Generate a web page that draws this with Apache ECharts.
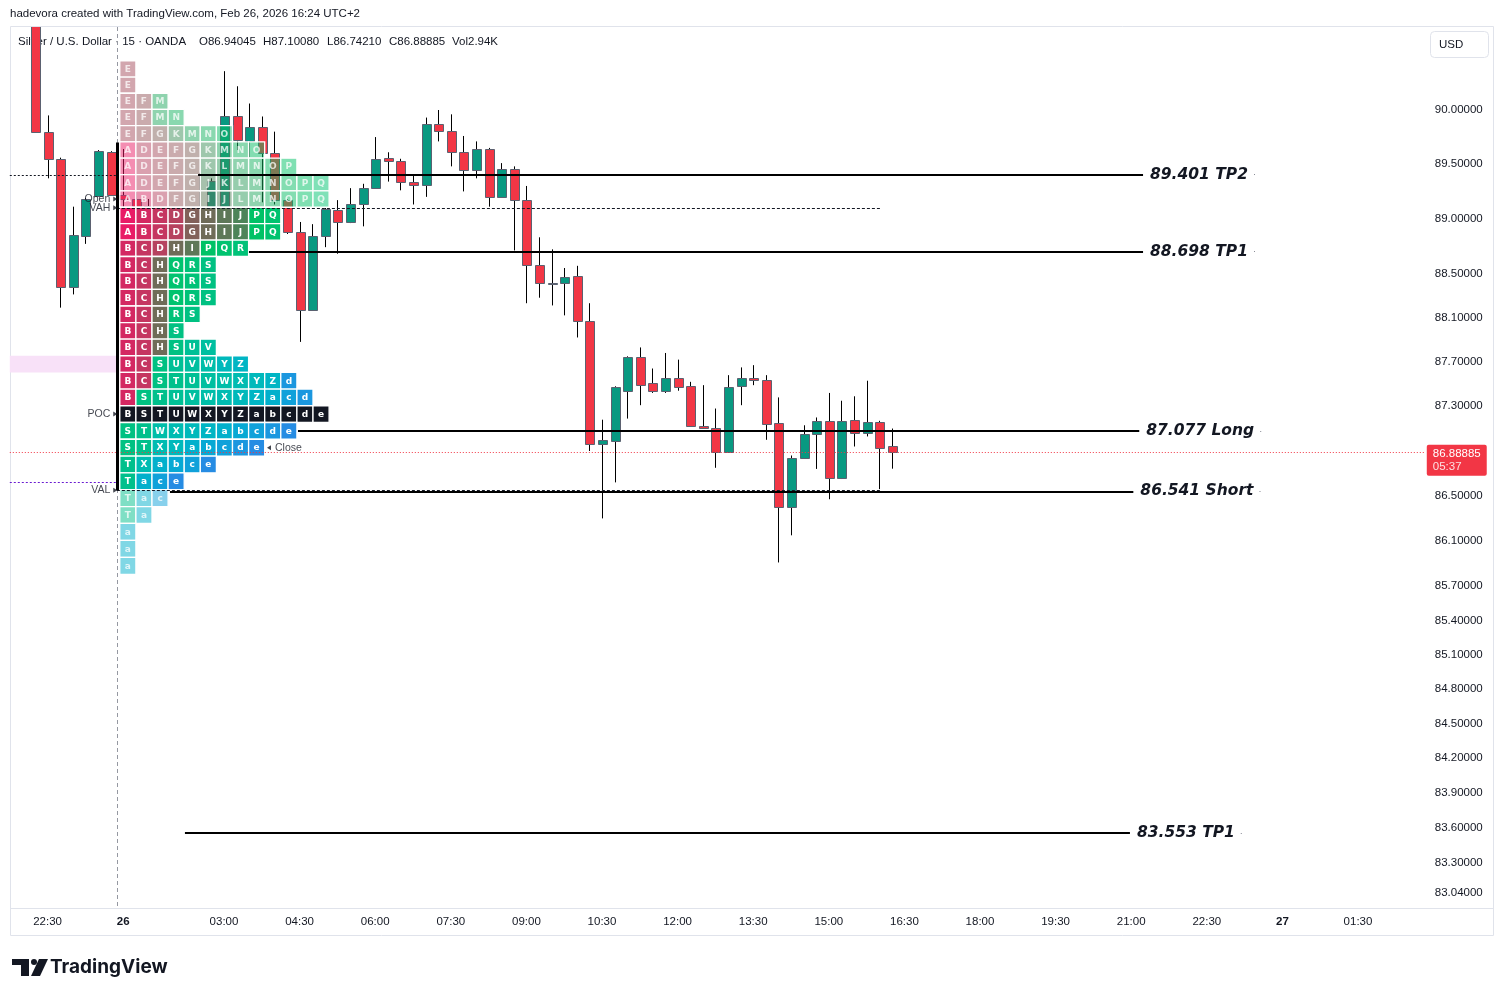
<!DOCTYPE html>
<html><head><meta charset="utf-8">
<script src="https://cdn.jsdelivr.net/npm/echarts@6/dist/echarts.min.js"></script>
<style>html,body{margin:0;padding:0;background:#fff;}#c{width:1504px;height:996px;}</style>
</head><body><div id="c"></div><script>
// ---------------- DATA ----------------
const candleTimes = [
 '25 22:15','25 22:30','25 22:45','25 23:00','25 23:15','25 23:30','25 23:45',
 '26 01:00','26 01:15','26 01:30','26 01:45','26 02:00','26 02:15','26 02:30','26 02:45',
 '26 03:00','26 03:15','26 03:30','26 03:45','26 04:00','26 04:15','26 04:30','26 04:45',
 '26 05:00','26 05:15','26 05:30','26 05:45','26 06:00','26 06:15','26 06:30','26 06:45',
 '26 07:00','26 07:15','26 07:30','26 07:45','26 08:00','26 08:15','26 08:30','26 08:45',
 '26 09:00','26 09:15','26 09:30','26 09:45','26 10:00','26 10:15','26 10:30','26 10:45',
 '26 11:00','26 11:15','26 11:30','26 11:45','26 12:00','26 12:15','26 12:30','26 12:45',
 '26 13:00','26 13:15','26 13:30','26 13:45','26 14:00','26 14:15','26 14:30','26 14:45',
 '26 15:00','26 15:15','26 15:30','26 15:45','26 16:00','26 16:15'];
const candleOpen = [91.20,89.80,89.55,88.38,88.84,89.21,89.61,
 89.22,89.18,89.12,87.95,87.55,88.35,88.95,88.85,
 89.11,89.94,89.71,89.84,89.60,89.17,88.88,88.17,
 88.84,89.08,88.97,89.13,89.28,89.56,89.53,89.34,
 89.31,89.87,89.81,89.61,89.45,89.64,89.20,89.46,
 89.17,88.58,88.41,88.41,88.48,88.07,86.96,86.99,
 87.44,87.74,87.51,87.44,87.55,87.48,87.12,87.11,
 86.89,87.48,87.55,87.54,87.15,86.40,86.84,87.05,
 87.17,86.66,87.18,87.06,87.16,86.94045];
const candleHigh = [91.40,89.95,89.56,89.11,89.19,89.63,89.62,
 89.64,89.25,89.18,88.30,88.45,89.03,89.42,89.37,
 90.36,90.22,90.06,89.94,89.80,89.18,88.97,88.95,
 89.10,89.17,89.28,89.32,89.75,89.61,89.55,89.40,
 89.93,90.00,89.96,89.76,89.71,89.65,89.51,89.48,
 89.30,88.83,88.72,88.55,88.57,88.23,87.18,87.48,
 87.75,87.83,87.64,87.78,87.72,87.52,87.49,87.28,
 87.58,87.65,87.67,87.58,87.38,86.86,87.13,87.20,
 87.42,87.35,87.39,87.53,87.17,87.10080];
const candleLow = [89.80,89.37,88.19,88.31,88.77,89.20,89.21,
 89.05,88.88,87.85,87.23,87.38,88.25,88.73,88.80,
 89.11,89.63,89.56,89.15,89.13,88.86,87.88,88.16,
 88.74,88.68,88.96,88.93,89.28,89.34,89.26,89.13,
 89.20,89.71,89.48,89.25,89.37,89.11,89.20,88.71,
 88.23,88.28,88.21,88.12,87.92,86.90,86.30,86.62,
 87.19,87.31,87.42,87.42,87.44,87.12,87.11,86.75,
 86.89,87.31,87.49,87.00,85.91,86.15,86.84,86.74,
 86.47,86.65,86.94,87.03,86.56,86.74210];
const candleClose = [89.80,89.55,88.38,88.85,89.18,89.62,89.22,
 89.18,89.12,87.95,87.55,88.35,88.95,88.85,89.35,
 89.94,89.72,89.84,89.60,89.17,88.88,88.17,88.84,
 89.09,88.97,89.13,89.28,89.55,89.53,89.34,89.31,
 89.87,89.81,89.61,89.45,89.64,89.20,89.46,89.17,
 88.58,88.41,88.41,88.47,88.07,86.96,87.00,87.47,
 87.74,87.49,87.44,87.55,87.47,87.12,87.11,86.89,
 87.47,87.55,87.54,87.14,86.40,86.84,87.05,87.17,
 86.66,87.17,87.06,87.16,86.93,86.88885];
const lastVolume = '2.94K';
const countdown = '05:37';

const yTicks = [90.00,89.50,89.00,88.50,88.10,87.70,87.30,86.50,86.10,85.70,85.40,85.10,84.80,84.50,84.20,83.90,83.60,83.30,83.04];
const xTickKeys = ['25 22:30','26 01:00','26 03:00','26 04:30','26 06:00','26 07:30','26 09:00','26 10:30','26 12:00','26 13:30','26 15:00','26 16:30','26 18:00','26 19:30','26 21:00','26 22:30','27 00:00','27 01:30'];
const xTickLabels = ['22:30','26','03:00','04:30','06:00','07:30','09:00','10:30','12:00','13:30','15:00','16:30','18:00','19:30','21:00','22:30','27','01:30'];

// TPO market profile (session 26)
const tpoPrices = [90.38,90.23,90.08,89.93,89.78,89.63,89.48,89.33,89.18,89.03,88.88,88.73,88.58,88.43,88.28,88.13,87.98,87.83,87.68,87.53,87.38,87.23,87.08,86.93,86.78,86.63,86.48,86.33,86.18,86.03,85.88];
const tpoLetters = ['E','E','EFM','EFMN','EFGKMNO','ADEFGKMNO','ADEFGKLMNOP','ADEFGJKLMNOPQ','ABDFGIJLMNOPQ',
 'ABCDGHIJPQ','ABCDGHIJPQ','BCDHIPQR','BCHQRS','BCHQRS','BCHQRS','BCHRS','BCHS','BCHSUV','BCSUVWYZ',
 'BCSTUVWXYZd','BSTUVWXYZacd','BSTUWXYZabcde','STWXYZabcde','STXYabcde','TXabce','Tace',
 'Tac','Ta','a','a','a'];
const tpoPeriods = 'ABCDEFGHIJKLMNOPQRSTUVWXYZabcde';
const tpoValueAreaHigh = 89.10, tpoValueAreaLow = 86.55, tpoPoc = 87.23, tpoOpen = 89.18, tpoClose = 86.93;
const tpoRangeBar = [89.70, 86.55];
const highlightBand = [87.605, 87.755];
const prevSessionLevels = [89.40, 86.62];

const levelPrices = [89.401, 88.698, 87.077, 86.541, 83.553];
const levelNames = ['TP2', 'TP1', 'Long', 'Short', 'TP1'];

// ---------------- STYLE / LAYOUT ----------------
const FONT = "'Liberation Sans', Arial, sans-serif";
const TXT = '#131722';
const UP = '#089981', DOWN = '#f23645';
const tpoColors = ['#e91b66','#d42862','#c53661','#b6425f','#a64d5d','#95575b','#82615a','#6f6c58','#5e7858','#4d8459',
 '#3d905a','#2e9c5c','#20a85e','#13b260','#08bb63','#00c266','#00c36f','#00c278','#00c182','#00c08c','#00c096',
 '#00bfa0','#00bea9','#00bcb2','#00b9bb','#00b5c4','#02b0cc','#07a9d4','#10a1da','#1b97df','#268ce3'];
const BAR_PX = 12.6, X_MAX = 112.3, GRID_LEFT = 9.8;
const PROFILE_X = 8.73, CELL_PITCH = 16.1, SESSION_X = 8.5, MARK_X = 8.37, CLOSE_X = 20.57, PROFILE_END = 69.2;
const levelSpan = [[14.94, 89.94], [18.98, 89.94], [22.87, 89.64], [12.71, 89.17], [13.9, 88.9]];
const Y_MIN = 82.912, Y_MAX = 90.7712;

// timeline of 15-minute bars (session gap 00:00-01:00 on the 26th)
const timeline = [];
(function () {
  let d = 25, h = 21, m = 45;
  const p = v => String(v).padStart(2, '0');
  for (let i = 0; i < 120; i++) {
    timeline.push(d + ' ' + p(h) + ':' + p(m));
    m += 15; if (m === 60) { m = 0; h++; }
    if (h === 24) { h = 0; d++; }
    if (d === 26 && h === 0) h = 1;
  }
})();
const xIdx = k => timeline.indexOf(k);

function rgba(hex, a) {
  const n = parseInt(hex.slice(1), 16);
  return 'rgba(' + (n >> 16 & 255) + ',' + (n >> 8 & 255) + ',' + (n & 255) + ',' + a + ')';
}

const candleData = candleTimes.map((t, i) => [xIdx(t), candleOpen[i], candleHigh[i], candleLow[i], candleClose[i]]);
const tpoData = [];
tpoLetters.forEach((row, r) => { row.split('').forEach((ch, c) => tpoData.push([PROFILE_X, tpoPrices[r], c, tpoPeriods.indexOf(ch)])); });
const tpoStep = tpoPrices[0] - tpoPrices[1];
const last = candleData.length - 1;
const lastClose = candleClose[last];

const chart = echarts.init(document.getElementById('c'), null, {renderer: 'canvas', width: 1504, height: 996});

const dotted = (y, x1, x2, color, dash) => [{coord: [x1, y], lineStyle: {color: color, width: 1, type: dash}, label: {show: false}}, {coord: [x2, y]}];

const levelLines = levelPrices.map((p, i) => [
  {coord: [levelSpan[i][0], p], lineStyle: {color: '#000', width: 2, type: 'solid'},
   label: {show: true, position: 'end', distance: 7,
     formatter: '{t|' + p.toFixed(3) + ' ' + levelNames[i] + '}{d|·}',
     rich: {t: {fontFamily: "'DejaVu Sans'", fontWeight: 'bold', fontStyle: 'italic', fontSize: 15.5, color: TXT},
            d: {fontSize: 9, color: '#787b86', padding: [0, 0, 0, 5]}}}},
  {coord: [levelSpan[i][1], p]}
]);

const option = {
  animation: false,
  textStyle: {fontFamily: FONT},
  grid: {left: GRID_LEFT, top: 27, bottom: 88, right: 1504 - GRID_LEFT - X_MAX * BAR_PX},
  xAxis: {
    type: 'value', min: 0, max: X_MAX,
    axisLine: {show: false}, axisTick: {show: false}, splitLine: {show: false},
    axisLabel: {
      customValues: xTickKeys.map(xIdx), margin: 8, color: TXT, fontSize: 11.5, fontFamily: FONT,
      formatter: v => { const i = xTickKeys.findIndex(k => xIdx(k) === Math.round(v)); const t = xTickLabels[i] || ''; return /^\d+$/.test(t) ? '{b|' + t + '}' : t; },
      rich: {b: {fontWeight: 'bold', fontSize: 11.5, fontFamily: FONT, color: TXT}}
    }
  },
  yAxis: {
    type: 'log', logBase: 10, min: Y_MIN, max: Y_MAX, position: 'right',
    axisLine: {show: false}, axisTick: {show: false}, splitLine: {show: false},
    axisLabel: {customValues: yTicks, formatter: v => Number(v).toFixed(5), color: TXT, fontSize: 11.5, fontFamily: FONT, margin: 10}
  },
  graphic: {elements: [
    {type: 'rect', z: -10, silent: true, shape: {x: 10.5, y: 26.5, width: 1483, height: 909}, style: {fill: 'none', stroke: '#e0e3eb', lineWidth: 1}},
    {type: 'line', z: -10, silent: true, shape: {x1: 10, y1: 908.5, x2: 1494, y2: 908.5}, style: {stroke: '#e0e3eb', lineWidth: 1}},
    {type: 'text', z: -5, x: 10, y: 14, style: {text: 'hadevora created with TradingView.com, Feb 26, 2026 16:24 UTC+2', font: '11.5px ' + FONT, fill: TXT, verticalAlign: 'middle'}},
    {type: 'text', z: -5, x: 18, y: 42, style: {text: 'Silver / U.S. Dollar · 15 · OANDA', font: '11.5px ' + FONT, fill: TXT, verticalAlign: 'middle'}},
    {type: 'text', z: -5, x: 199, y: 42, style: {text: 'O' + candleOpen[last].toFixed(5), font: '11.5px ' + FONT, fill: TXT, verticalAlign: 'middle'}},
    {type: 'text', z: -5, x: 263, y: 42, style: {text: 'H' + candleHigh[last].toFixed(5), font: '11.5px ' + FONT, fill: TXT, verticalAlign: 'middle'}},
    {type: 'text', z: -5, x: 327, y: 42, style: {text: 'L' + candleLow[last].toFixed(5), font: '11.5px ' + FONT, fill: TXT, verticalAlign: 'middle'}},
    {type: 'text', z: -5, x: 389, y: 42, style: {text: 'C' + candleClose[last].toFixed(5), font: '11.5px ' + FONT, fill: TXT, verticalAlign: 'middle'}},
    {type: 'text', z: -5, x: 452, y: 42, style: {text: 'Vol' + lastVolume, font: '11.5px ' + FONT, fill: TXT, verticalAlign: 'middle'}},
    {type: 'rect', shape: {x: 1430.5, y: 31.5, width: 58, height: 26, r: 4}, style: {fill: '#fff', stroke: '#e0e3eb', lineWidth: 1}},
    {type: 'text', x: 1439, y: 44.5, style: {text: 'USD', font: '11.5px ' + FONT, fill: TXT, verticalAlign: 'middle'}},
    {type: 'rect', shape: {x: 12, y: 959, width: 17, height: 6}, style: {fill: TXT}},
    {type: 'rect', shape: {x: 21, y: 959, width: 8, height: 17}, style: {fill: TXT}},
    {type: 'circle', shape: {cx: 34, cy: 962, r: 3}, style: {fill: TXT}},
    {type: 'polygon', shape: {points: [[39, 959], [48, 959], [40, 976], [31, 976]]}, style: {fill: TXT}},
    {type: 'text', x: 50, y: 967, style: {text: 'TradingView', font: 'bold 19px Inter', fill: TXT, verticalAlign: 'middle'}}
  ]},
  series: [
    { // levels (under candles)
      type: 'line', z: 1, clip: false, silent: true, symbol: 'none', data: [[0, lastClose]], lineStyle: {opacity: 0},
      markArea: {silent: true, itemStyle: {color: '#f8e1f8'}, label: {show: false},
        data: [[{coord: [0, highlightBand[1]]}, {coord: [SESSION_X, highlightBand[0]]}]]},
      markLine: {silent: true, symbol: ['none', 'none'], label: {show: false}, data: [
        [{coord: [SESSION_X, Y_MAX], lineStyle: {color: '#9598a1', width: 1, type: [4, 3]}, label: {show: false}}, {coord: [SESSION_X, Y_MIN]}],
        dotted(prevSessionLevels[0], 0, SESSION_X, '#131722', [2, 2]),
        dotted(prevSessionLevels[1], 0, SESSION_X, '#6a1bd1', [2, 2]),
        [{coord: [0, lastClose], lineStyle: {color: DOWN, width: 1, type: [1, 2]},
          label: {show: true, position: 'end', distance: 2, offset: [0, 8], backgroundColor: DOWN, padding: [3, 6, 2, 6], borderRadius: 2,
            formatter: '{a|' + lastClose.toFixed(5) + '}\n{b|' + countdown + '}',
            rich: {a: {color: '#fff', fontSize: 11.5, lineHeight: 13, fontFamily: FONT}, b: {color: 'rgba(255,255,255,0.85)', fontSize: 11.5, lineHeight: 13, fontFamily: FONT}}}},
         {coord: [X_MAX, lastClose]}]
      ].concat(levelLines)}
    },
    { // candles
      type: 'custom', z: 2, clip: true, silent: true, data: candleData,
      encode: {x: 0, y: [1, 2, 3, 4]},
      renderItem: function (params, api) {
        const x = api.value(0), o = api.value(1), h = api.value(2), l = api.value(3), c = api.value(4);
        const pO = api.coord([x, o]), pC = api.coord([x, c]), pH = api.coord([x, h]), pL = api.coord([x, l]);
        const cx = Math.round(pO[0]);
        const top = Math.round(Math.min(pO[1], pC[1])), bot = Math.round(Math.max(pO[1], pC[1]));
        return {type: 'group', children: [
          {type: 'line', shape: {x1: cx + 0.5, y1: pH[1], x2: cx + 0.5, y2: pL[1]}, style: {stroke: '#000', lineWidth: 1}},
          {type: 'rect', shape: {x: cx - 4 + 0.5, y: top + 0.5, width: 9, height: Math.max(1, bot - top)},
           style: {fill: c >= o ? UP : DOWN, stroke: '#5b6170', lineWidth: 1}}
        ]};
      }
    },
    { // TPO cells
      type: 'custom', z: 3, silent: true, data: tpoData,
      encode: {x: 0, y: 1},
      renderItem: function (params, api) {
        const price = api.value(1), col = api.value(2), li = api.value(3);
        const yTop = api.coord([PROFILE_X, price + tpoStep / 2])[1];
        const yBot = api.coord([PROFILE_X, price - tpoStep / 2])[1];
        const x0 = api.coord([PROFILE_X, price])[0] + col * CELL_PITCH;
        const faded = price > tpoValueAreaHigh + 1e-6 || price < tpoValueAreaLow - 1e-6;
        const isPoc = Math.abs(price - tpoPoc) < 1e-6;
        const base = isPoc ? '#131722' : tpoColors[li];
        return {type: 'group', children: [
          {type: 'rect', shape: {x: x0, y: yTop, width: CELL_PITCH, height: yBot - yTop},
           style: {fill: faded ? rgba(base, 0.5) : base, stroke: '#fff', lineWidth: 1.3}},
          {type: 'text', style: {x: x0 + CELL_PITCH / 2, y: (yTop + yBot) / 2 + 0.5, text: tpoPeriods[li],
            fill: faded ? 'rgba(255,255,255,0.75)' : '#fff', font: 'bold 9px "DejaVu Sans"', align: 'center', verticalAlign: 'middle'}}
        ]};
      }
    },
    { // value area lines, profile range bar
      type: 'line', z: 4, clip: false, silent: true, symbol: 'none', data: [[0, lastClose]], lineStyle: {opacity: 0},
      markLine: {silent: true, symbol: ['none', 'none'], label: {show: false}, data: [
        dotted(tpoValueAreaHigh, SESSION_X, PROFILE_END, '#131722', [3, 2]),
        dotted(tpoValueAreaLow, SESSION_X, PROFILE_END, '#131722', [3, 2]),
        [{coord: [8.55, tpoRangeBar[0]], lineStyle: {color: '#000', width: 3, type: 'solid'}, label: {show: false}}, {coord: [8.55, tpoRangeBar[1]]}]
      ]}
    },
    { // markers
      type: 'scatter', z: 5, silent: true, symbol: 'triangle', symbolSize: [5, 4], symbolRotate: -90,
      itemStyle: {color: TXT},
      label: {show: true, position: 'left', distance: 3, formatter: '{b}', fontSize: 10.5, color: TXT, fontFamily: FONT},
      data: [
        {name: 'Open', value: [MARK_X, tpoOpen]},
        {name: 'VAH', value: [MARK_X, tpoValueAreaHigh]},
        {name: 'POC', value: [MARK_X, tpoPoc]},
        {name: 'VAL', value: [MARK_X, tpoValueAreaLow]},
        {name: 'Close', value: [CLOSE_X, tpoClose], symbolRotate: 90, label: {position: 'right', distance: 4}}
      ]
    }
  ]
};
chart.setOption(option);
</script></body></html>
